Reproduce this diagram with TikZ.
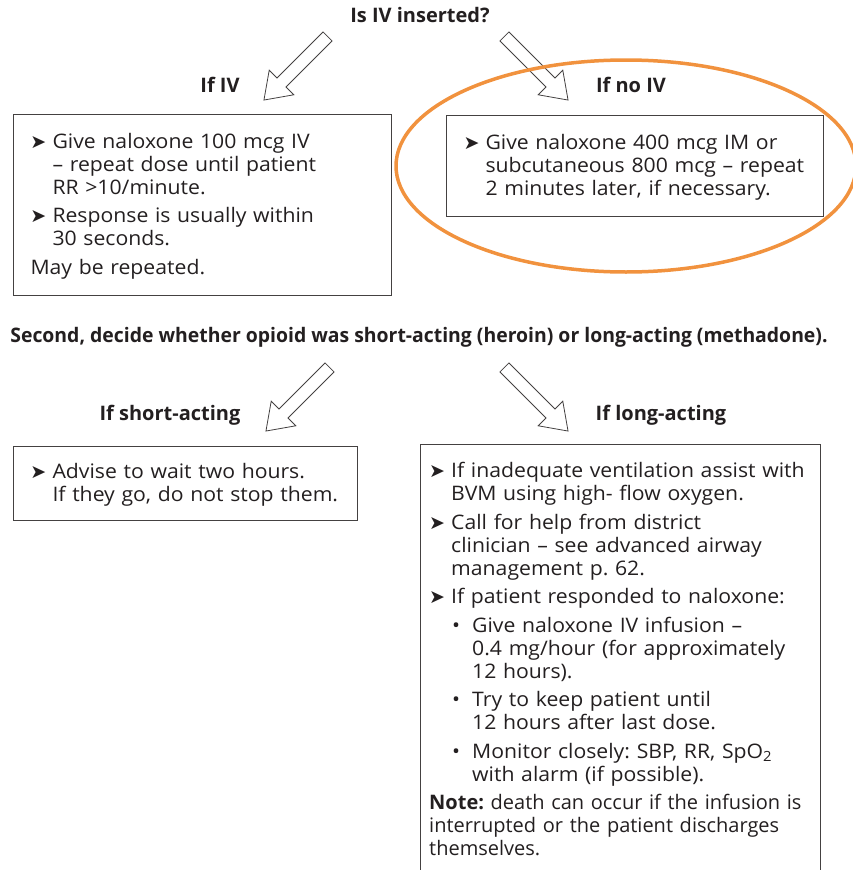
\documentclass[tikz,border=0pt]{standalone}
\usepackage{fontspec}
\setmainfont{Open Sans}[FakeStretch=1.06]
\newfontfamily\headfont{Open Sans}
\newfontfamily\narrowhead{Open Sans}[FakeStretch=0.97]
\newfontfamily\notefont{Open Sans}[FakeStretch=1.0]
\newfontfamily\symfont{DejaVu Sans}
\usetikzlibrary{shapes.arrows, positioning}
\definecolor{inkgray}{RGB}{35,31,32}
\definecolor{markorange}{RGB}{241,146,62}

\newcommand{\tipmark}{{\symfont\fontsize{19}{19}\selectfont\char"27A4}}
\newcommand{\arrowpt}{\par\noindent\hangindent=22pt\hangafter=1\makebox[22pt][l]{\tipmark}}
\newcommand{\dotpt}{\par\noindent\hangindent=43pt\hangafter=1\hspace*{23pt}\makebox[20pt][l]{\textbullet}}
\newcommand{\boxtext}{\fontsize{20}{23}\selectfont\raggedright\frenchspacing\hyphenpenalty=10000\setlength{\parskip}{5.5pt}}
\newcommand{\boxend}{\par\vspace{12pt}}

\begin{document}
\begin{tikzpicture}[x=1pt, y=-1pt,
    question/.style={font=\headfont\bfseries\fontsize{20}{22}\selectfont, text=inkgray, inner sep=0pt},
    infobox/.style={text width=#1, inner xsep=17pt, inner ysep=5pt,
                    anchor=north west, font=\boxtext, text=inkgray},
    framed/.style={draw=inkgray!85, line width=1pt},
    hollow/.style={single arrow, draw=inkgray!85, line width=0.8pt, fill=white,
                   minimum height=90pt, inner xsep=0pt, inner ysep=6pt,
                   single arrow head extend=11pt, single arrow tip angle=70,
                   single arrow head indent=0pt},
    halo/.style={draw=markorange, line width=3.5pt}
]
    \useasboundingbox (0,0) rectangle (852,870);
    \coordinate (bottomedge) at (0,870);

    % first question
    \node[question] (inserted) at (420,15) {Is IV inserted?};
    \node[hollow, rotate=225] (toiv) at (299,65) {};
    \node[hollow, rotate=-45] (tonoiv) at (533,65) {};
    \node[question] (ifiv) at (220,85) {If IV};
    \node[question] (ifnoiv) at (631,85) {If no IV};

    \node[infobox=344pt, framed] (ivbox) at (13,114) {%
        \arrowpt Give naloxone 100 mcg IV\newline – repeat dose until patient\newline RR >10/minute.
        \arrowpt Response is usually within\newline 30 seconds.
        \par\noindent May be repeated.\boxend};
    \node[infobox=343pt, framed] (noivbox) at (446,115) {%
        \arrowpt Give naloxone 400 mcg IM or\newline subcutaneous 800 mcg – repeat\newline 2 minutes later, if necessary.\boxend};

    \draw[halo] (626,166) ellipse [x radius=230, y radius=106];

    % second question
    \node[question, font=\narrowhead\bfseries\fontsize{20}{22}\selectfont] (second) at (419,337)
        {Second, decide whether opioid was short-acting (heroin) or long-acting (methadone).};
    \node[hollow, rotate=225] (toshort) at (301,396) {};
    \node[hollow, rotate=-45] (tolong) at (533,396) {};
    \node[question] (ifshort) at (170,415) {If short-acting};
    \node[question] (iflong) at (661,415) {If long-acting};

    \node[infobox=310pt, framed, inner ysep=3pt] (shortbox) at (13,446) {%
        \arrowpt Advise to wait two hours.\newline If they go, do not stop them.\boxend};
    \node[infobox=382pt, inner xsep=9pt] (longbox) at (420,444) {%
        \arrowpt If inadequate ventilation assist with\newline BVM using high- flow oxygen.
        \arrowpt Call for help from district\newline clinician – see advanced airway\newline management p.~62.
        \arrowpt If patient responded to naloxone:
        \dotpt Give naloxone IV infusion –\newline 0.4 mg/hour (for approximately\newline 12 hours).
        \dotpt Try to keep patient until\newline 12 hours after last dose.
        \dotpt Monitor closely: SBP, RR, SpO\textsubscript{2}\newline with alarm (if possible).
        \par\noindent{\notefont\textbf{Note:} death can occur if the infusion is\newline interrupted or the patient discharges\newline themselves.}};
    \draw[framed] (longbox.north west |- bottomedge) |- (longbox.north east)
        -- (longbox.north east |- bottomedge);
\end{tikzpicture}
\end{document}
